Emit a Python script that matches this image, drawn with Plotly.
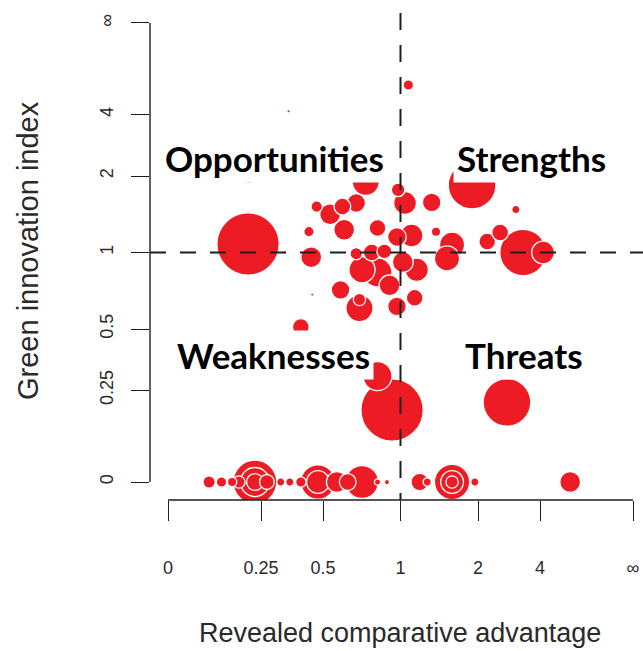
import numpy as np
import plotly.graph_objects as go

# Product groups: revealed comparative advantage (RCA), green innovation index (GII)
# and trade volume (bubble area).
rca = [
    1.07, 0.35, 0.21, 0.74, 0.98, 1.04, 1.31, 1.89, 2.97, 0.47,
    0.535, 0.60, 0.68, 0.61, 0.435, 0.82, 0.97, 1.10, 1.36, 1.57,
    1.50, 2.19, 2.50, 3.23, 4.17, 0.208, 0.445, 0.335, 0.45, 0.716,
    0.82, 1.15, 1.02, 0.59, 0.70, 0.70, 0.91, 0.97, 1.13, 0.40,
    0.82, 0.93, 2.69, 0.78, 0.87, 0.68,
    # groups without green innovation
    0.097, 0.13, 0.16, 0.18, 0.23, 0.23, 0.23, 0.27, 0.32, 0.355,
    0.40, 0.476, 0.476, 0.57, 0.63, 0.716, 0.82, 0.89, 1.18, 1.26,
    1.57, 1.57, 1.57, 1.94, 6.4,
]
gii = [
    6.4, 4.2, 1.96, 1.89, 1.75, 1.55, 1.56, 1.83, 1.46, 1.50,
    1.40, 1.50, 1.55, 1.22, 1.20, 1.24, 1.145, 1.16, 1.20, 1.07,
    0.95, 1.10, 1.19, 1.00, 1.00, 1.077, 0.96, 1.00, 0.69, 0.86,
    0.84, 0.86, 0.92, 0.72, 0.61, 0.66, 0.75, 0.62, 0.67, 0.51,
    0.30, 0.186, 0.21, 1.00, 1.01, 0.99,
    0, 0, 0, 0, 0, 0, 0, 0, 0, 0,
    0, 0, 0, 0, 0, 0, 0, 0, 0, 0,
    0, 0, 0, 0, 0,
]
volume = [
    1.0, 0.1, 1.0, 6.8, 1.7, 4.8, 3.2, 21, 0.64, 1.2,
    4.0, 2.6, 3.2, 4.0, 1.0, 2.6, 3.2, 4.8, 0.8, 5.8,
    5.8, 2.6, 2.6, 20, 4.8, 36, 4.0, 0.1, 0.1, 6.3,
    7.8, 5.0, 4.0, 3.2, 6.8, 1.4, 4.0, 3.2, 2.6, 2.6,
    7.8, 36, 21, 2.6, 2.0, 1.4,
    1.4, 1.0, 0.8, 1.4, 17.6, 7.8, 2.6, 2.0, 0.64, 0.64,
    1.0, 11, 4.8, 4.0, 2.6, 10, 0.36, 0.25, 2.8, 0.64,
    11.5, 4.8, 1.4, 0.64, 4.0,
]

tick_values = [0, 0.25, 0.5, 1, 2, 4, np.inf]
tick_labels = ["0", "0.25", "0.5", "1", "2", "4", "∞"]

quadrants = ["Opportunities", "Strengths", "Weaknesses", "Threats"]


def squash(v):
    """Map [0, inf] onto [0, 1] with v / (1 + v); 1 sits in the middle."""
    v = np.asarray(v, dtype=float)
    return np.where(np.isinf(v), 1.0, v / (1.0 + v))


# Largest bubbles first so the smaller ones stay visible on top
order = np.argsort(volume)[::-1]
xs = squash(rca)[order]
ys = squash(gii)[order]
vs = np.asarray(volume)[order]

RED = "#ed1c24"
INK = "#1e1e1e"
AXIS_FONT = "Liberation Sans, Arial, sans-serif"

fig = go.Figure(
    go.Scatter(
        x=xs,
        y=ys,
        mode="markers",
        marker=dict(
            size=vs,
            sizemode="area",
            sizeref=0.0185,
            color=RED,
            opacity=1,
            line=dict(color="white", width=1.3),
        ),
        hoverinfo="skip",
        cliponaxis=True,
    )
)

# Threshold lines at RCA = 1 and GII = 1
fig.add_shape(type="line", xref="x", yref="paper",
              x0=float(squash(1)), x1=float(squash(1)), y0=0.984, y1=0,
              line=dict(color=INK, width=2, dash="17px,15px"), layer="above")
fig.add_shape(type="line", xref="paper", yref="y",
              x0=0, x1=1.02, y0=float(squash(1)), y1=float(squash(1)),
              line=dict(color=INK, width=2, dash="16px,14px"), layer="above")

# R-style axis lines spanning only the tick range
fig.add_shape(type="line", xref="x", yref="paper", x0=0, x1=1, y0=0, y1=0,
              line=dict(color=INK, width=1.4), layer="above")
fig.add_shape(type="line", xref="paper", yref="y", x0=0, x1=0, y0=0, y1=1,
              line=dict(color=INK, width=1.4), layer="above")

# Quadrant labels on white boxes
label_pos = [(0.2535, 0.691), (0.773, 0.691), (0.2495, 0.293), (0.7586, 0.293)]
for name, (px, py) in zip(quadrants, label_pos):
    fig.add_annotation(
        text=name, xref="paper", yref="paper", x=px, y=py,
        xanchor="center", yanchor="middle", showarrow=False,
        font=dict(family="Lato, Open Sans, sans-serif", size=35, color="#000000", weight="bold"),
        bgcolor="white", borderpad=3,
    )

# Axis titles
fig.add_annotation(text="Revealed comparative advantage", xref="paper", yref="paper",
                   x=0.507, y=-0.2687, xanchor="center", yanchor="middle", showarrow=False,
                   font=dict(family=AXIS_FONT, size=27, color="#2a2a2a"))
fig.add_annotation(text="Green innovation index", xref="paper", yref="paper",
                   x=-0.2475, y=0.505, xanchor="center", yanchor="middle", showarrow=False,
                   textangle=-90, font=dict(family=AXIS_FONT, size=29, color="#2a2a2a"))

fig.update_layout(
    width=643, height=651,
    margin=dict(l=150, r=0, t=5, b=151, pad=0),
    paper_bgcolor="white", plot_bgcolor="white",
    showlegend=False,
)
fig.update_xaxes(
    range=[-0.0387, 1.0215], showgrid=False, zeroline=False, showline=False,
    tickmode="array", tickvals=squash(tick_values), ticktext=tick_labels,
    ticks="outside", ticklen=20, tickwidth=1.4, tickcolor=INK,
    tickfont=dict(family=AXIS_FONT, size=18, color="#2a2a2a"),
    ticklabelstandoff=31,
)
fig.update_yaxes(
    range=[-0.0392, 1.0392], showgrid=False, zeroline=False, showline=False,
    tickmode="array", tickvals=squash(tick_values), ticktext=tick_labels,
    ticks="outside", ticklen=18, tickwidth=1.4, tickcolor=INK, tickangle=-90,
    tickfont=dict(family=AXIS_FONT, size=18, color="#2a2a2a"),
    ticklabelstandoff=11,
)

fig.write_html("out.html")
